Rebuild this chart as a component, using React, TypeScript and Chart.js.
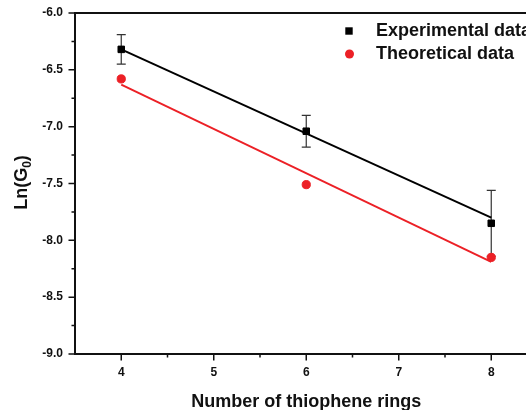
import React, { useEffect, useRef } from "react";
import { Chart, registerables } from "chart.js";

Chart.register(...registerables);

// ---- data ----
const ringCounts = [4, 6, 8];
const experimental = [-6.32, -7.04, -7.85];
const experimentalError = [0.13, 0.14, 0.29];
const theoretical = [-6.58, -7.51, -8.15];
const fitX = [4, 8];
const experimentalFit = [-6.32, -7.8];
const theoreticalFit = [-6.63, -8.19];

const xTicks = [4, 5, 6, 7, 8];
const xMinorTicks = [4.5, 5.5, 6.5, 7.5];
const yTicks = [-6.0, -6.5, -7.0, -7.5, -8.0, -8.5, -9.0];
const yMinorTicks = [-6.25, -6.75, -7.25, -7.75, -8.25, -8.75];

const legendLabels = ["Experimental data", "Theoretical data"];
const xTitle = "Number of thiophene rings";
const yTitleMain = "Ln(G";
const yTitleSub = "0";
const yTitleEnd = ")";

const FONT = "'Liberation Sans', Arial, Helvetica, sans-serif";
const RED = "rgb(236,32,38)";
const INK = "#111";

const decorPlugin = {
  id: "decor",
  beforeDatasetsDraw(chart: any) {
    const { ctx, scales } = chart;
    const x = scales.x;
    const y = scales.y;
    ctx.save();
    ctx.strokeStyle = "#333";
    ctx.lineWidth = 1.2;
    ringCounts.forEach((rx, i) => {
      const px = x.getPixelForValue(rx);
      const top = y.getPixelForValue(experimental[i] + experimentalError[i]);
      const bot = y.getPixelForValue(experimental[i] - experimentalError[i]);
      ctx.beginPath();
      ctx.moveTo(px, top);
      ctx.lineTo(px, bot);
      ctx.moveTo(px - 4.5, top);
      ctx.lineTo(px + 4.5, top);
      ctx.moveTo(px - 4.5, bot);
      ctx.lineTo(px + 4.5, bot);
      ctx.stroke();
    });
    ctx.restore();
  },
  afterDraw(chart: any) {
    const { ctx, chartArea, scales } = chart;
    const x = scales.x;
    const y = scales.y;
    const { left, right, top, bottom } = chartArea;
    ctx.save();
    // axes / frame
    ctx.strokeStyle = INK;
    ctx.lineWidth = 2;
    ctx.beginPath();
    ctx.moveTo(left, top);
    ctx.lineTo(right + 1, top);
    ctx.moveTo(left, top - 1);
    ctx.lineTo(left, bottom + 1);
    ctx.moveTo(left - 1, bottom);
    ctx.lineTo(right + 1, bottom);
    ctx.stroke();
    // ticks
    ctx.lineWidth = 1.5;
    ctx.beginPath();
    yTicks.forEach((v) => {
      const py = y.getPixelForValue(v);
      ctx.moveTo(left - 6.5, py);
      ctx.lineTo(left, py);
    });
    yMinorTicks.forEach((v) => {
      const py = y.getPixelForValue(v);
      ctx.moveTo(left - 3.5, py);
      ctx.lineTo(left, py);
    });
    xTicks.forEach((v) => {
      const px = x.getPixelForValue(v);
      ctx.moveTo(px, bottom);
      ctx.lineTo(px, bottom + 6.5);
    });
    xMinorTicks.forEach((v) => {
      const px = x.getPixelForValue(v);
      ctx.moveTo(px, bottom);
      ctx.lineTo(px, bottom + 3.5);
    });
    ctx.stroke();

    // x title
    ctx.fillStyle = INK;
    ctx.font = `bold 18px ${FONT}`;
    ctx.textAlign = "center";
    ctx.textBaseline = "alphabetic";
    ctx.fillText(xTitle, (left + right) / 2, 407);

    // y title (rotated, with subscript)
    ctx.save();
    ctx.translate(27, (top + bottom) / 2 - 1);
    ctx.rotate(-Math.PI / 2);
    ctx.textAlign = "left";
    ctx.font = `bold 18px ${FONT}`;
    const w1 = ctx.measureText(yTitleMain).width;
    const w3 = ctx.measureText(yTitleEnd).width;
    ctx.font = `bold 12px ${FONT}`;
    const w2 = ctx.measureText(yTitleSub).width;
    let sx = -(w1 + w2 + w3) / 2;
    ctx.font = `bold 18px ${FONT}`;
    ctx.fillText(yTitleMain, sx, 0);
    sx += w1;
    ctx.font = `bold 12px ${FONT}`;
    ctx.fillText(yTitleSub, sx, 3.5);
    sx += w2;
    ctx.font = `bold 18px ${FONT}`;
    ctx.fillText(yTitleEnd, sx, 0);
    ctx.restore();

    // legend
    ctx.fillStyle = "#000";
    ctx.fillRect(349 - 3.7, 31 - 3.7, 7.4, 7.4);
    ctx.fillStyle = RED;
    ctx.beginPath();
    ctx.arc(349.5, 54, 4.5, 0, Math.PI * 2);
    ctx.fill();
    ctx.fillStyle = INK;
    ctx.font = `bold 18px ${FONT}`;
    ctx.textAlign = "left";
    ctx.textBaseline = "middle";
    ctx.fillText(legendLabels[0], 376, 31.5);
    ctx.fillText(legendLabels[1], 376, 54);
    ctx.restore();
  },
};

export default function App() {
  const canvasRef = useRef<HTMLCanvasElement | null>(null);

  useEffect(() => {
    document.body.style.margin = "0";
    const canvas = canvasRef.current;
    if (!canvas) return;
    const chart = new Chart(canvas, {
      type: "scatter",
      data: {
        datasets: [
          {
            label: legendLabels[0],
            data: ringCounts.map((v, i) => ({ x: v, y: experimental[i] })),
            pointStyle: "rect",
            pointRadius: 4.6,
            backgroundColor: "#000",
            borderColor: "#000",
            borderWidth: 1,
            showLine: false,
          },
          {
            label: legendLabels[1],
            data: ringCounts.map((v, i) => ({ x: v, y: theoretical[i] })),
            pointStyle: "circle",
            pointRadius: 4.1,
            backgroundColor: RED,
            borderColor: RED,
            borderWidth: 1,
            showLine: false,
          },
          {
            label: "Experimental fit",
            data: fitX.map((v, i) => ({ x: v, y: experimentalFit[i] })),
            showLine: true,
            pointRadius: 0,
            borderColor: "#000",
            borderWidth: 2,
            backgroundColor: "#000",
          },
          {
            label: "Theoretical fit",
            data: fitX.map((v, i) => ({ x: v, y: theoreticalFit[i] })),
            showLine: true,
            pointRadius: 0,
            borderColor: RED,
            borderWidth: 1.9,
            backgroundColor: RED,
          },
        ],
      },
      options: {
        animation: false,
        responsive: false,
        layout: { padding: { top: 13, right: 7.5, left: 0, bottom: 0 } },
        plugins: {
          legend: { display: false },
          tooltip: { enabled: false },
        },
        scales: {
          x: {
            type: "linear",
            min: 3.5,
            max: 8.5,
            grid: { display: false, drawTicks: false },
            border: { display: false },
            ticks: {
              padding: 11.5,
              color: INK,
              font: { family: FONT, size: 12, weight: "bold" },
              callback: (v: any) => String(v),
            },
            afterBuildTicks: (s: any) => {
              s.ticks = xTicks.map((v) => ({ value: v }));
            },
            afterFit: (s: any) => {
              s.height = 56;
              s.paddingLeft = 0;
              s.paddingRight = 0;
            },
          },
          y: {
            type: "linear",
            min: -9,
            max: -6,
            grid: { display: false, drawTicks: false },
            border: { display: false },
            ticks: {
              padding: 12,
              color: INK,
              font: { family: FONT, size: 12, weight: "bold" },
              callback: (v: any) => Number(v).toFixed(1),
            },
            afterBuildTicks: (s: any) => {
              s.ticks = yTicks.map((v) => ({ value: v }));
            },
            afterFit: (s: any) => {
              s.width = 75;
              s.paddingTop = 0;
              s.paddingBottom = 0;
            },
          },
        },
      } as any,
      plugins: [decorPlugin],
    });
    return () => chart.destroy();
  }, []);

  return (
    <div
      style={{
        position: "fixed",
        left: 0,
        top: 0,
        width: 526,
        height: 410,
        overflow: "hidden",
        background: "#fff",
      }}
    >
      <canvas ref={canvasRef} width={545} height={410} />
    </div>
  );
}
